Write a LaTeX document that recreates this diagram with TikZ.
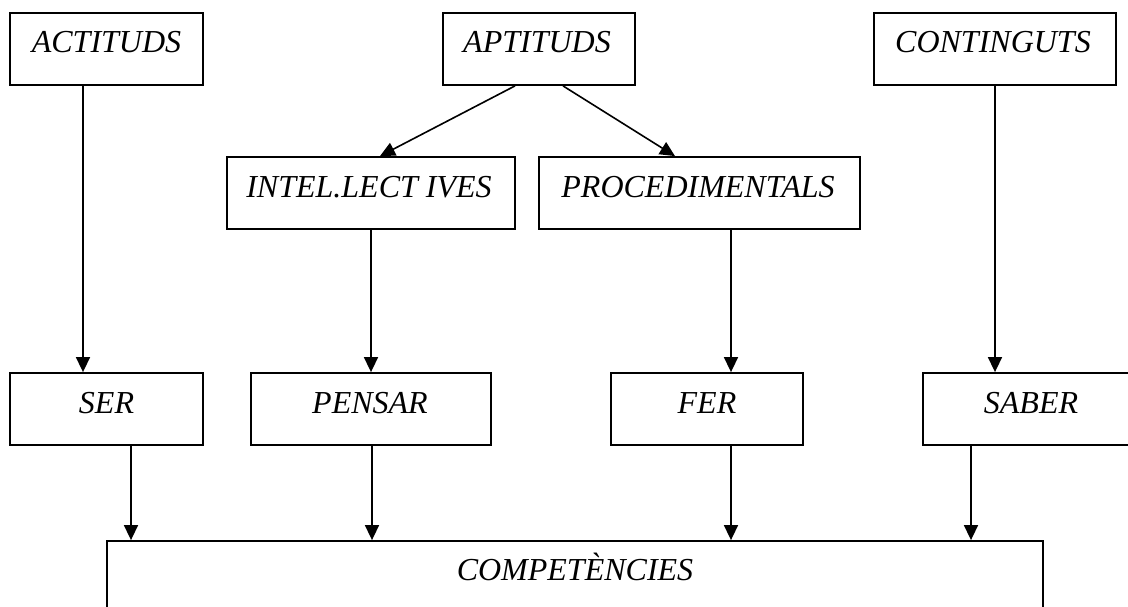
\documentclass[tikz,border=0pt]{standalone}
\usepackage{fontspec}
\setmainfont{Liberation Serif}
\usetikzlibrary{arrows.meta,calc}
\begin{document}
\begin{tikzpicture}[x=1pt,y=-1pt,
  boxst/.style={draw,line width=1.8pt,inner sep=0pt},
  lbl/.style={anchor=base,inner sep=0pt,font=\fontsize{32}{38}\selectfont\itshape},
  arr/.style={line width=1.6pt,-{Triangle[width=14pt,length=15pt]}}]
\useasboundingbox (0,0) rectangle (1128,607);
% boxes
\node[boxst,minimum width=193pt,minimum height=72pt] (act) at (106.5,49) {};
\node[boxst,minimum width=192pt,minimum height=72pt] (apt) at (539,49) {};
\node[boxst,minimum width=242pt,minimum height=72pt] (con) at (995,49) {};
\node[boxst,minimum width=288pt,minimum height=72pt] (int) at (371,193) {};
\node[boxst,minimum width=321pt,minimum height=72pt] (pro) at (699.5,193) {};
\node[boxst,minimum width=193pt,minimum height=72pt] (ser) at (106.5,409) {};
\node[boxst,minimum width=240pt,minimum height=72pt] (pen) at (371,409) {};
\node[boxst,minimum width=192pt,minimum height=72pt] (fer) at (707,409) {};
\node[boxst,minimum width=216pt,minimum height=72pt] (sab) at (1031,409) {};
\node[boxst,minimum width=936pt,minimum height=120pt] (comp) at (575,601) {};
% labels
\node[lbl] (actT) at (106.5,53) {ACTITUDS};
\node[lbl] (aptT) at (537,53) {APTITUDS};
\node[lbl] (conT) at (993,53) {CONTINGUTS};
\node[lbl] (intT) at (369,197) {INTEL.LECT IVES};
\node[lbl] (proT) at (698,197) {PROCEDIMENTALS};
\node[lbl] (serT) at (106.5,413) {SER};
\node[lbl] (penT) at (370,413) {PENSAR};
\node[lbl] (ferT) at (707,413) {FER};
\node[lbl] (sabT) at (1031,413) {SABER};
\node[lbl] (compT) at (575,580) {COMPETÈNCIES};
% connectors
\draw[arr] (act.south -| 83,0) -- (ser.north -| 83,0);
\draw[arr] (con.south -| 995,0) -- (sab.north -| 995,0);
\draw[arr] (apt.south -| 515,0) -- (int.north -| 380,0);
\draw[arr] (apt.south -| 563,0) -- (pro.north -| 675,0);
\draw[arr] (int.south -| 371,0) -- (pen.north -| 371,0);
\draw[arr] (pro.south -| 731,0) -- (fer.north -| 731,0);
\draw[arr] (ser.south -| 131,0) -- (comp.north -| 131,0);
\draw[arr] (pen.south -| 372,0) -- (comp.north -| 372,0);
\draw[arr] (fer.south -| 731,0) -- (comp.north -| 731,0);
\draw[arr] (sab.south -| 971,0) -- (comp.north -| 971,0);
\end{tikzpicture}
\end{document}
